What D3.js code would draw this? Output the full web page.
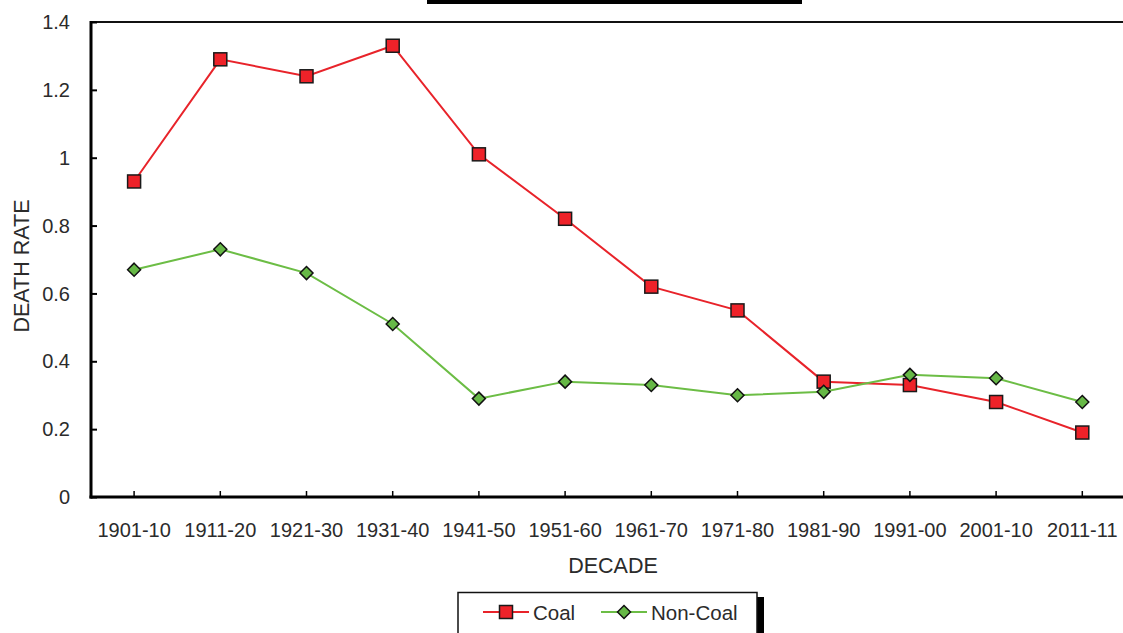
<!DOCTYPE html>
<html>
<head>
<meta charset="utf-8">
<script src="https://cdn.jsdelivr.net/npm/d3@7"></script>
<style>
  html, body { margin: 0; padding: 0; background: #fff; }
  svg { display: block; }
  svg text { font-family: "Liberation Sans", Arial, sans-serif; }
</style>
</head>
<body>
<svg id="chart" width="1123" height="633"></svg>
<script>
// Death rates per decade, coal vs non-coal mining
const decades = ["1901-10", "1911-20", "1921-30", "1931-40", "1941-50", "1951-60",
                 "1961-70", "1971-80", "1981-90", "1991-00", "2001-10", "2011-11"];
const coalRates    = [0.93, 1.29, 1.24, 1.33, 1.01, 0.82, 0.62, 0.55, 0.34, 0.33, 0.28, 0.19];
const nonCoalRates = [0.67, 0.73, 0.66, 0.51, 0.29, 0.34, 0.33, 0.30, 0.31, 0.36, 0.35, 0.28];
const yTicks = [0, 0.2, 0.4, 0.6, 0.8, 1, 1.2, 1.4];
const seriesNames = ["Coal", "Non-Coal"];

const svg = d3.select("#chart");
const plotLeft = 91, plotTop = 22, plotBottom = 497, bandW = 86.2;

const x = d3.scaleBand().domain(decades).range([plotLeft, plotLeft + bandW * decades.length]).padding(0);
const y = d3.scaleLinear().domain([0, 1.4]).range([plotBottom, plotTop]);
const cx = d => x(d) + x.bandwidth() / 2;

const textColor = "#2b2b2b";
const font = "Liberation Sans, Arial, sans-serif";

// title bar and top frame
svg.append("rect").attr("x", 427).attr("y", 0).attr("width", 375).attr("height", 4).attr("fill", "#000");
svg.append("line").attr("x1", plotLeft).attr("x2", 1123).attr("y1", plotTop).attr("y2", plotTop)
  .attr("stroke", "#111").attr("stroke-width", 2);

// y axis
const yAxis = svg.append("g").attr("transform", `translate(${plotLeft},0)`)
  .call(d3.axisRight(y).tickValues(yTicks).tickSize(6).tickFormat(d3.format("~g")))
  .attr("font-family", font).attr("font-size", 20);
yAxis.select(".domain").remove();
yAxis.selectAll(".tick line").attr("stroke", "#000").attr("stroke-width", 2);
yAxis.selectAll(".tick text").attr("x", -21).attr("text-anchor", "end")
  .attr("fill", textColor).attr("dy", "0.33em");
svg.append("line").attr("x1", plotLeft).attr("x2", plotLeft).attr("y1", plotTop - 1).attr("y2", plotBottom + 1.5)
  .attr("stroke", "#000").attr("stroke-width", 3);

// x axis
const xAxis = svg.append("g").attr("transform", `translate(0,${plotBottom})`)
  .call(d3.axisTop(x).tickSize(6))
  .attr("font-family", font).attr("font-size", 20);
xAxis.select(".domain").remove();
xAxis.selectAll(".tick line").attr("stroke", "#000").attr("stroke-width", 1.5);
xAxis.selectAll(".tick text").attr("y", 40).attr("dy", 0).attr("text-anchor", "middle")
  .attr("fill", textColor);
svg.append("line").attr("x1", plotLeft - 1.5).attr("x2", 1123).attr("y1", plotBottom).attr("y2", plotBottom)
  .attr("stroke", "#000").attr("stroke-width", 3);

// axis titles
svg.append("text").attr("x", 613).attr("y", 573).attr("text-anchor", "middle")
  .attr("fill", textColor).attr("font-size", 21.5).text("DECADE");
svg.append("text").attr("transform", `translate(28.5,266) rotate(-90)`)
  .attr("text-anchor", "middle").attr("fill", textColor).attr("font-size", 21.5).text("DEATH RATE");

const red = "#e8232a", redFill = "#ee2229", green = "#6cbd45", greenFill = "#66b846";
const line = d3.line().x((d, i) => cx(decades[i])).y(d => y(d));

// coal series
svg.append("path").datum(coalRates).attr("d", line).attr("fill", "none")
  .attr("stroke", red).attr("stroke-width", 2);
svg.append("g").selectAll("rect").data(coalRates).join("rect")
  .attr("x", (d, i) => cx(decades[i]) - 6.5).attr("y", d => y(d) - 6.5)
  .attr("width", 13).attr("height", 13)
  .attr("fill", redFill).attr("stroke", "#1a1a1a").attr("stroke-width", 1.5);

// non-coal series
svg.append("path").datum(nonCoalRates).attr("d", line).attr("fill", "none")
  .attr("stroke", green).attr("stroke-width", 2);
const diamond = s => `M0,${-s}L${s},0L0,${s}L${-s},0Z`;
svg.append("g").selectAll("path").data(nonCoalRates).join("path")
  .attr("transform", (d, i) => `translate(${cx(decades[i])},${y(d)})`)
  .attr("d", diamond(6.5))
  .attr("fill", greenFill).attr("stroke", "#111").attr("stroke-width", 1.5);

// legend
const lg = svg.append("g");
lg.append("rect").attr("x", 757).attr("y", 597).attr("width", 7).attr("height", 40).attr("fill", "#000");
lg.append("rect").attr("x", 458).attr("y", 592.5).attr("width", 299).attr("height", 45)
  .attr("fill", "#fff").attr("stroke", "#111").attr("stroke-width", 1.5);
const items = [
  { name: seriesNames[0], x0: 483, color: red, fill: redFill, shape: "square" },
  { name: seriesNames[1], x0: 601, color: green, fill: greenFill, shape: "diamond" }
];
const ly = 612;
items.forEach(it => {
  lg.append("line").attr("x1", it.x0).attr("x2", it.x0 + 46).attr("y1", ly).attr("y2", ly)
    .attr("stroke", it.color).attr("stroke-width", 2);
  if (it.shape === "square") {
    lg.append("rect").attr("x", it.x0 + 23 - 6.5).attr("y", ly - 6.5).attr("width", 13).attr("height", 13)
      .attr("fill", it.fill).attr("stroke", "#1a1a1a").attr("stroke-width", 1.5);
  } else {
    lg.append("path").attr("transform", `translate(${it.x0 + 23},${ly})`).attr("d", diamond(6.5))
      .attr("fill", it.fill).attr("stroke", "#111").attr("stroke-width", 1.5);
  }
  lg.append("text").attr("x", it.x0 + 50).attr("y", ly + 8).attr("fill", textColor)
    .attr("font-size", 20.5).text(it.name);
});
</script>
</body>
</html>
